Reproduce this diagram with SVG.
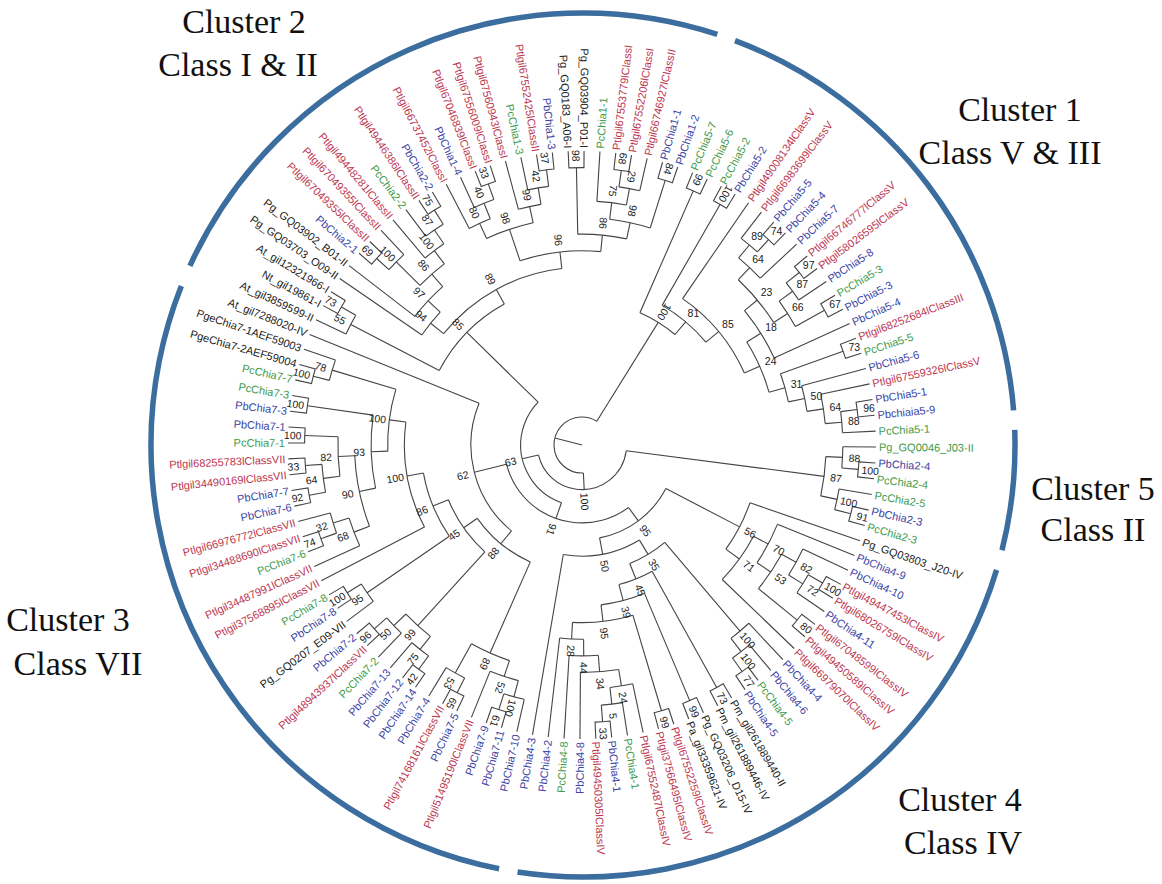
<svg xmlns="http://www.w3.org/2000/svg" width="1162" height="884" viewBox="0 0 1162 884">
<style>
.br{fill:none;stroke:#444;stroke-width:1.1}
.br circle{fill:none}
.t text{font-family:"Liberation Sans",Arial,sans-serif;font-size:11px;dominant-baseline:central}
.f{text-anchor:end}
.r{fill:#bc3650}.u{fill:#3c44a4}.g{fill:#3e9a4b}.k{fill:#222}
.b text{font-family:"Liberation Sans",Arial,sans-serif;font-size:10.5px;text-anchor:middle;dominant-baseline:central;fill:#222}
.cl{font-family:"Liberation Serif","Times New Roman",serif;font-size:34px;text-anchor:middle;fill:#111}
.ring{fill:none;stroke:#3b6d9e;stroke-width:5.5}
</style>
<defs>
<path id="ch" d="M294 0H277.4A277.4 277.4 0 0 1 276.99 15.02L293.57 15.92"/>
</defs>
<rect width="1162" height="884" fill="#fff"/>
<g id="ring">
<circle class="ring" cx="583" cy="445" r="432" pathLength="360" stroke-dasharray="64.8 400" transform="rotate(290.6 583 445)"/>
<circle class="ring" cx="583" cy="445" r="432" pathLength="360" stroke-dasharray="16.1 400" transform="rotate(358 583 445)"/>
<circle class="ring" cx="583" cy="445" r="432" pathLength="360" stroke-dasharray="81.9 400" transform="rotate(16.8 583 445)"/>
<circle class="ring" cx="583" cy="445" r="432" pathLength="360" stroke-dasharray="100.4 400" transform="rotate(101.2 583 445)"/>
<circle class="ring" cx="583" cy="445" r="432" pathLength="360" stroke-dasharray="83.6 400" transform="rotate(204.5 583 445)"/>
</g>
<g id="cluster-labels">
<text class="cl" x="244" y="33">Cluster 2</text><text class="cl" x="238" y="76">Class I &amp; II</text>
<text class="cl" x="1020" y="121">Cluster 1</text><text class="cl" x="1010" y="164">Class V &amp; III</text>
<text class="cl" x="1093" y="500">Cluster 5</text><text class="cl" x="1093" y="541">Class II</text>
<text class="cl" x="68" y="631">Cluster 3</text><text class="cl" x="78" y="675">Class VII</text>
<text class="cl" x="960" y="811">Cluster 4</text><text class="cl" x="963" y="854">Class IV</text>
</g>
<g id="tree" transform="translate(582 445)">
<g id="branches" class="br">
<use href="#ch" transform="rotate(3.5)"/><use href="#ch" transform="rotate(12.8)"/><use href="#ch" transform="rotate(28.3)"/><use href="#ch" transform="rotate(37.6)"/><use href="#ch" transform="rotate(53.2)"/><use href="#ch" transform="rotate(59.4)"/><use href="#ch" transform="rotate(65.6)"/><use href="#ch" transform="rotate(71.8)"/><use href="#ch" transform="rotate(84.2)"/>
<use href="#ch" transform="rotate(105.9)"/><use href="#ch" transform="rotate(115.2)"/><use href="#ch" transform="rotate(124.5)"/><use href="#ch" transform="rotate(136.95)"/><use href="#ch" transform="rotate(146.25)"/><use href="#ch" transform="rotate(158.7)"/><use href="#ch" transform="rotate(168)"/><use href="#ch" transform="rotate(174.2)"/><use href="#ch" transform="rotate(180.4)"/><use href="#ch" transform="rotate(186.6)"/><use href="#ch" transform="rotate(192.8)"/>
<use href="#ch" transform="rotate(208.3)"/><use href="#ch" transform="rotate(220.7)"/><use href="#ch" transform="rotate(236.3)"/><use href="#ch" transform="rotate(248.7)"/><use href="#ch" transform="rotate(261.1)"/><use href="#ch" transform="rotate(267.3)"/><use href="#ch" transform="rotate(276.6)"/><use href="#ch" transform="rotate(285.9)"/>
<use href="#ch" transform="rotate(292.1)"/><use href="#ch" transform="rotate(298.3)"/><use href="#ch" transform="rotate(310.7)"/><use href="#ch" transform="rotate(320)"/><use href="#ch" transform="rotate(329.4)"/><use href="#ch" transform="rotate(338.7)"/><use href="#ch" transform="rotate(351.1)"/>
<circle r="260.8" pathLength="360" stroke-dasharray="4.65 999" transform="rotate(0.4)"/><path d="M260.8 0H294" transform="rotate(0.4)"/><path d="M260.8 0H277.4" transform="rotate(5.05)"/>
<circle r="260.8" pathLength="360" stroke-dasharray="4.65 999" transform="rotate(9.7)"/><path d="M260.8 0H294" transform="rotate(9.7)"/><path d="M260.8 0H277.4" transform="rotate(14.35)"/>
<circle r="244.1" pathLength="360" stroke-dasharray="9.3 999" transform="rotate(2.73)"/><path d="M244.1 0H260.8" transform="rotate(2.73)"/><path d="M244.1 0H260.8" transform="rotate(12.03)"/>
<circle r="260.8" pathLength="360" stroke-dasharray="4.65 999" transform="rotate(29.85)"/><path d="M260.8 0H277.4" transform="rotate(29.85)"/><path d="M260.8 0H294" transform="rotate(34.5)"/>
<circle r="244.1" pathLength="360" stroke-dasharray="6.98 999" transform="rotate(25.2)"/><path d="M244.1 0H294" transform="rotate(25.2)"/><path d="M244.1 0H260.8" transform="rotate(32.18)"/>
<circle r="227.5" pathLength="360" stroke-dasharray="10.46 999" transform="rotate(28.69)"/><path d="M227.5 0H244.1" transform="rotate(28.69)"/><path d="M227.5 0H277.4" transform="rotate(39.15)"/>
<circle r="210.9" pathLength="360" stroke-dasharray="11.82 999" transform="rotate(22.1)"/><path d="M210.9 0H294" transform="rotate(22.1)"/><path d="M210.9 0H227.5" transform="rotate(33.92)"/>
<circle r="194.3" pathLength="360" stroke-dasharray="15.79 999" transform="rotate(28.01)"/><path d="M194.3 0H210.9" transform="rotate(28.01)"/><path d="M194.3 0H294" transform="rotate(43.8)"/>
<circle r="177.6" pathLength="360" stroke-dasharray="16.9 999" transform="rotate(19)"/><path d="M177.6 0H294" transform="rotate(19)"/><path d="M177.6 0H194.3" transform="rotate(35.9)"/>
<circle r="260.8" pathLength="360" stroke-dasharray="4.7 999" transform="rotate(50.05)"/><path d="M260.8 0H294" transform="rotate(50.05)"/><path d="M260.8 0H277.4" transform="rotate(54.75)"/>
<circle r="244.1" pathLength="360" stroke-dasharray="5.5 999" transform="rotate(46.9)"/><path d="M244.1 0H294" transform="rotate(46.9)"/><path d="M244.1 0H260.8" transform="rotate(52.4)"/>
<circle r="260.8" pathLength="360" stroke-dasharray="4.65 999" transform="rotate(81.1)"/><path d="M260.8 0H294" transform="rotate(81.1)"/><path d="M260.8 0H277.4" transform="rotate(85.75)"/>
<circle r="244.1" pathLength="360" stroke-dasharray="5.43 999" transform="rotate(78)"/><path d="M244.1 0H294" transform="rotate(78)"/><path d="M244.1 0H260.8" transform="rotate(83.43)"/>
<circle r="227.5" pathLength="360" stroke-dasharray="9.69 999" transform="rotate(80.71)"/><path d="M227.5 0H244.1" transform="rotate(80.71)"/><path d="M227.5 0H294" transform="rotate(90.4)"/>
<circle r="210.9" pathLength="360" stroke-dasharray="7.94 999" transform="rotate(85.56)"/><path d="M210.9 0H227.5" transform="rotate(85.56)"/><path d="M210.9 0H294" transform="rotate(93.5)"/>
<circle r="194.3" pathLength="360" stroke-dasharray="7.07 999" transform="rotate(89.53)"/><path d="M194.3 0H210.9" transform="rotate(89.53)"/><path d="M194.3 0H294" transform="rotate(96.6)"/>
<circle r="177.6" pathLength="360" stroke-dasharray="19.72 999" transform="rotate(73.35)"/><path d="M177.6 0H277.4" transform="rotate(73.35)"/><path d="M177.6 0H194.3" transform="rotate(93.07)"/>
<circle r="161" pathLength="360" stroke-dasharray="16.06 999" transform="rotate(67.15)"/><path d="M161 0H277.4" transform="rotate(67.15)"/><path d="M161 0H177.6" transform="rotate(83.21)"/>
<circle r="144.4" pathLength="360" stroke-dasharray="14.23 999" transform="rotate(60.95)"/><path d="M144.4 0H277.4" transform="rotate(60.95)"/><path d="M144.4 0H161" transform="rotate(75.18)"/>
<circle r="127.8" pathLength="360" stroke-dasharray="18.42 999" transform="rotate(49.65)"/><path d="M127.8 0H244.1" transform="rotate(49.65)"/><path d="M127.8 0H144.4" transform="rotate(68.07)"/>
<circle r="111.1" pathLength="360" stroke-dasharray="40.84 999" transform="rotate(58.86)"/><path d="M111.1 0H127.8" transform="rotate(58.86)"/><path d="M111.1 0H294" transform="rotate(99.7)"/>
<circle r="94.5" pathLength="360" stroke-dasharray="51.83 999" transform="rotate(27.45)"/><path d="M94.5 0H177.6" transform="rotate(27.45)"/><path d="M94.5 0H111.1" transform="rotate(79.28)"/>
<circle r="260.8" pathLength="360" stroke-dasharray="4.65 999" transform="rotate(102.8)"/><path d="M260.8 0H294" transform="rotate(102.8)"/><path d="M260.8 0H277.4" transform="rotate(107.45)"/>
<circle r="244.1" pathLength="360" stroke-dasharray="6.97 999" transform="rotate(105.13)"/><path d="M244.1 0H260.8" transform="rotate(105.13)"/><path d="M244.1 0H294" transform="rotate(112.1)"/>
<circle r="260.8" pathLength="360" stroke-dasharray="4.65 999" transform="rotate(116.75)"/><path d="M260.8 0H277.4" transform="rotate(116.75)"/><path d="M260.8 0H294" transform="rotate(121.4)"/>
<circle r="227.5" pathLength="360" stroke-dasharray="10.48 999" transform="rotate(108.6)"/><path d="M227.5 0H244.1" transform="rotate(108.6)"/><path d="M227.5 0H260.8" transform="rotate(119.08)"/>
<circle r="260.8" pathLength="360" stroke-dasharray="4.65 999" transform="rotate(126.05)"/><path d="M260.8 0H277.4" transform="rotate(126.05)"/><path d="M260.8 0H294" transform="rotate(130.7)"/>
<circle r="260.8" pathLength="360" stroke-dasharray="4.65 999" transform="rotate(133.85)"/><path d="M260.8 0H294" transform="rotate(133.85)"/><path d="M260.8 0H277.4" transform="rotate(138.5)"/>
<circle r="244.1" pathLength="360" stroke-dasharray="7.8 999" transform="rotate(128.38)"/><path d="M244.1 0H260.8" transform="rotate(128.38)"/><path d="M244.1 0H260.8" transform="rotate(136.18)"/>
<circle r="260.8" pathLength="360" stroke-dasharray="4.65 999" transform="rotate(143.15)"/><path d="M260.8 0H294" transform="rotate(143.15)"/><path d="M260.8 0H277.4" transform="rotate(147.8)"/>
<circle r="260.8" pathLength="360" stroke-dasharray="4.65 999" transform="rotate(160.25)"/><path d="M260.8 0H277.4" transform="rotate(160.25)"/><path d="M260.8 0H294" transform="rotate(164.9)"/>
<circle r="244.1" pathLength="360" stroke-dasharray="6.98 999" transform="rotate(155.6)"/><path d="M244.1 0H294" transform="rotate(155.6)"/><path d="M244.1 0H260.8" transform="rotate(162.58)"/>
<circle r="260.8" pathLength="360" stroke-dasharray="6.2 999" transform="rotate(169.55)"/><path d="M260.8 0H277.4" transform="rotate(169.55)"/><path d="M260.8 0H277.4" transform="rotate(175.75)"/>
<circle r="244.1" pathLength="360" stroke-dasharray="9.3 999" transform="rotate(172.65)"/><path d="M244.1 0H260.8" transform="rotate(172.65)"/><path d="M244.1 0H277.4" transform="rotate(181.95)"/>
<circle r="227.5" pathLength="360" stroke-dasharray="18.21 999" transform="rotate(159.09)"/><path d="M227.5 0H244.1" transform="rotate(159.09)"/><path d="M227.5 0H244.1" transform="rotate(177.3)"/>
<circle r="210.9" pathLength="360" stroke-dasharray="19.95 999" transform="rotate(168.2)"/><path d="M210.9 0H227.5" transform="rotate(168.2)"/><path d="M210.9 0H277.4" transform="rotate(188.15)"/>
<circle r="260.8" pathLength="360" stroke-dasharray="4.65 999" transform="rotate(194.35)"/><path d="M260.8 0H277.4" transform="rotate(194.35)"/><path d="M260.8 0H294" transform="rotate(199)"/>
<circle r="194.3" pathLength="360" stroke-dasharray="18.5 999" transform="rotate(178.18)"/><path d="M194.3 0H210.9" transform="rotate(178.18)"/><path d="M194.3 0H260.8" transform="rotate(196.68)"/>
<circle r="177.6" pathLength="360" stroke-dasharray="34.93 999" transform="rotate(152.5)"/><path d="M177.6 0H294" transform="rotate(152.5)"/><path d="M177.6 0H194.3" transform="rotate(187.43)"/>
<circle r="161" pathLength="360" stroke-dasharray="24.49 999" transform="rotate(145.48)"/><path d="M161 0H260.8" transform="rotate(145.48)"/><path d="M161 0H177.6" transform="rotate(169.97)"/>
<circle r="144.4" pathLength="360" stroke-dasharray="25.45 999" transform="rotate(132.28)"/><path d="M144.4 0H244.1" transform="rotate(132.28)"/><path d="M144.4 0H161" transform="rotate(157.73)"/>
<circle r="127.8" pathLength="360" stroke-dasharray="31.16 999" transform="rotate(113.84)"/><path d="M127.8 0H227.5" transform="rotate(113.84)"/><path d="M127.8 0H144.4" transform="rotate(145)"/>
<circle r="111.1" pathLength="360" stroke-dasharray="72.68 999" transform="rotate(129.42)"/><path d="M111.1 0H127.8" transform="rotate(129.42)"/><path d="M111.1 0H294" transform="rotate(202.1)"/>
<circle r="260.8" pathLength="360" stroke-dasharray="4.65 999" transform="rotate(205.2)"/><path d="M260.8 0H294" transform="rotate(205.2)"/><path d="M260.8 0H277.4" transform="rotate(209.85)"/>
<circle r="260.8" pathLength="360" stroke-dasharray="4.65 999" transform="rotate(222.25)"/><path d="M260.8 0H277.4" transform="rotate(222.25)"/><path d="M260.8 0H294" transform="rotate(226.9)"/>
<circle r="260.8" pathLength="360" stroke-dasharray="4.65 999" transform="rotate(233.2)"/><path d="M260.8 0H294" transform="rotate(233.2)"/><path d="M260.8 0H277.4" transform="rotate(237.85)"/>
<circle r="244.1" pathLength="360" stroke-dasharray="5.53 999" transform="rotate(230)"/><path d="M244.1 0H294" transform="rotate(230)"/><path d="M244.1 0H260.8" transform="rotate(235.53)"/>
<circle r="227.5" pathLength="360" stroke-dasharray="8.18 999" transform="rotate(224.58)"/><path d="M227.5 0H260.8" transform="rotate(224.58)"/><path d="M227.5 0H244.1" transform="rotate(232.76)"/>
<circle r="210.9" pathLength="360" stroke-dasharray="11.07 999" transform="rotate(217.6)"/><path d="M210.9 0H294" transform="rotate(217.6)"/><path d="M210.9 0H227.5" transform="rotate(228.67)"/>
<circle r="194.3" pathLength="360" stroke-dasharray="8.64 999" transform="rotate(214.5)"/><path d="M194.3 0H294" transform="rotate(214.5)"/><path d="M194.3 0H210.9" transform="rotate(223.14)"/>
<circle r="260.8" pathLength="360" stroke-dasharray="4.65 999" transform="rotate(245.6)"/><path d="M260.8 0H294" transform="rotate(245.6)"/><path d="M260.8 0H277.4" transform="rotate(250.25)"/>
<circle r="244.1" pathLength="360" stroke-dasharray="5.43 999" transform="rotate(242.5)"/><path d="M244.1 0H294" transform="rotate(242.5)"/><path d="M244.1 0H260.8" transform="rotate(247.93)"/>
<circle r="260.8" pathLength="360" stroke-dasharray="4.65 999" transform="rotate(258)"/><path d="M260.8 0H294" transform="rotate(258)"/><path d="M260.8 0H277.4" transform="rotate(262.65)"/>
<circle r="244.1" pathLength="360" stroke-dasharray="5.43 999" transform="rotate(254.9)"/><path d="M244.1 0H294" transform="rotate(254.9)"/><path d="M244.1 0H260.8" transform="rotate(260.33)"/>
<circle r="227.5" pathLength="360" stroke-dasharray="12.4 999" transform="rotate(245.21)"/><path d="M227.5 0H244.1" transform="rotate(245.21)"/><path d="M227.5 0H244.1" transform="rotate(257.61)"/>
<circle r="260.8" pathLength="360" stroke-dasharray="4.65 999" transform="rotate(278.15)"/><path d="M260.8 0H277.4" transform="rotate(278.15)"/><path d="M260.8 0H294" transform="rotate(282.8)"/>
<circle r="244.1" pathLength="360" stroke-dasharray="6.98 999" transform="rotate(273.5)"/><path d="M244.1 0H294" transform="rotate(273.5)"/><path d="M244.1 0H260.8" transform="rotate(280.48)"/>
<circle r="227.5" pathLength="360" stroke-dasharray="10.46 999" transform="rotate(276.99)"/><path d="M227.5 0H244.1" transform="rotate(276.99)"/><path d="M227.5 0H277.4" transform="rotate(287.45)"/>
<circle r="210.9" pathLength="360" stroke-dasharray="13.37 999" transform="rotate(268.85)"/><path d="M210.9 0H277.4" transform="rotate(268.85)"/><path d="M210.9 0H227.5" transform="rotate(282.22)"/>
<circle r="194.3" pathLength="360" stroke-dasharray="24.13 999" transform="rotate(251.41)"/><path d="M194.3 0H227.5" transform="rotate(251.41)"/><path d="M194.3 0H210.9" transform="rotate(275.54)"/>
<circle r="177.6" pathLength="360" stroke-dasharray="44.66 999" transform="rotate(218.82)"/><path d="M177.6 0H194.3" transform="rotate(218.82)"/><path d="M177.6 0H194.3" transform="rotate(263.48)"/>
<circle r="161" pathLength="360" stroke-dasharray="33.62 999" transform="rotate(207.53)"/><path d="M161 0H260.8" transform="rotate(207.53)"/><path d="M161 0H177.6" transform="rotate(241.15)"/>
<circle r="260.8" pathLength="360" stroke-dasharray="4.65 999" transform="rotate(307.6)"/><path d="M260.8 0H294" transform="rotate(307.6)"/><path d="M260.8 0H277.4" transform="rotate(312.25)"/>
<circle r="244.1" pathLength="360" stroke-dasharray="6.97 999" transform="rotate(309.93)"/><path d="M244.1 0H260.8" transform="rotate(309.93)"/><path d="M244.1 0H294" transform="rotate(316.9)"/>
<circle r="260.8" pathLength="360" stroke-dasharray="4.65 999" transform="rotate(321.55)"/><path d="M260.8 0H277.4" transform="rotate(321.55)"/><path d="M260.8 0H294" transform="rotate(326.2)"/>
<circle r="244.1" pathLength="360" stroke-dasharray="7.07 999" transform="rotate(323.88)"/><path d="M244.1 0H260.8" transform="rotate(323.88)"/><path d="M244.1 0H277.4" transform="rotate(330.95)"/>
<circle r="227.5" pathLength="360" stroke-dasharray="14 999" transform="rotate(313.41)"/><path d="M227.5 0H244.1" transform="rotate(313.41)"/><path d="M227.5 0H244.1" transform="rotate(327.41)"/>
<circle r="210.9" pathLength="360" stroke-dasharray="15.19 999" transform="rotate(320.41)"/><path d="M210.9 0H227.5" transform="rotate(320.41)"/><path d="M210.9 0H294" transform="rotate(335.6)"/>
<circle r="260.8" pathLength="360" stroke-dasharray="4.65 999" transform="rotate(352.65)"/><path d="M260.8 0H277.4" transform="rotate(352.65)"/><path d="M260.8 0H294" transform="rotate(357.3)"/>
<circle r="244.1" pathLength="360" stroke-dasharray="6.98 999" transform="rotate(348)"/><path d="M244.1 0H294" transform="rotate(348)"/><path d="M244.1 0H260.8" transform="rotate(354.98)"/>
<circle r="227.5" pathLength="360" stroke-dasharray="6.59 999" transform="rotate(344.9)"/><path d="M227.5 0H294" transform="rotate(344.9)"/><path d="M227.5 0H244.1" transform="rotate(351.49)"/>
<circle r="210.9" pathLength="360" stroke-dasharray="7.95 999" transform="rotate(340.25)"/><path d="M210.9 0H277.4" transform="rotate(340.25)"/><path d="M210.9 0H227.5" transform="rotate(348.2)"/>
<circle r="194.3" pathLength="360" stroke-dasharray="16.23 999" transform="rotate(328)"/><path d="M194.3 0H210.9" transform="rotate(328)"/><path d="M194.3 0H210.9" transform="rotate(344.23)"/>
<circle r="177.6" pathLength="360" stroke-dasharray="31.62 999" transform="rotate(304.5)"/><path d="M177.6 0H294" transform="rotate(304.5)"/><path d="M177.6 0H194.3" transform="rotate(336.12)"/>
<circle r="161" pathLength="360" stroke-dasharray="20.46 999" transform="rotate(299.85)"/><path d="M161 0H277.4" transform="rotate(299.85)"/><path d="M161 0H177.6" transform="rotate(320.31)"/>
<circle r="144.4" pathLength="360" stroke-dasharray="16.43 999" transform="rotate(293.65)"/><path d="M144.4 0H277.4" transform="rotate(293.65)"/><path d="M144.4 0H161" transform="rotate(310.08)"/>
<circle r="77.9" pathLength="360" stroke-dasharray="112.39 999" transform="rotate(53.37)"/><path d="M77.9 0H94.5" transform="rotate(53.37)"/><path d="M77.9 0H111.1" transform="rotate(165.76)"/>
<circle r="61.3" pathLength="360" stroke-dasharray="114.77 999" transform="rotate(109.57)"/><path d="M61.3 0H77.9" transform="rotate(109.57)"/><path d="M61.3 0H161" transform="rotate(224.34)"/>
<circle r="44.6" pathLength="360" stroke-dasharray="159.58 999" transform="rotate(7.38)"/><path d="M44.6 0H244.1" transform="rotate(7.38)"/><path d="M44.6 0H61.3" transform="rotate(166.96)"/>
<circle r="28" pathLength="360" stroke-dasharray="214.7 999" transform="rotate(87.17)"/><path d="M28 0H44.6" transform="rotate(87.17)"/><path d="M28 0H144.4" transform="rotate(301.87)"/><path d="M0 0H28" transform="rotate(194.52)"/>
</g>
<g id="leaves" class="t">
<text class="g" transform="rotate(0.4)translate(297)">Pg_GQ0046_J03-II</text>
<text class="u" transform="rotate(3.5)translate(297)">PbChia2-4</text>
<text class="g" transform="rotate(6.6)translate(297)">PcChia2-4</text>
<text class="g" transform="rotate(9.7)translate(297)">PcChia2-5</text>
<text class="u" transform="rotate(12.8)translate(297)">PbChia2-3</text>
<text class="g" transform="rotate(15.9)translate(297)">PcChia2-3</text>
<text class="k" transform="rotate(19)translate(297)">Pg_GQ03803_J20-IV</text>
<text class="u" transform="rotate(22.1)translate(297)">PbChia4-9</text>
<text class="u" transform="rotate(25.2)translate(297)">PbChia4-10</text>
<text class="r" transform="rotate(28.3)translate(297)">Ptlgil49447453lClassIV</text>
<text class="r" transform="rotate(31.4)translate(297)">Ptlgil68026759lClassIV</text>
<text class="u" transform="rotate(34.5)translate(297)">PbChia4-11</text>
<text class="r" transform="rotate(37.6)translate(297)">Ptlgil67048599lClassIV</text>
<text class="r" transform="rotate(40.7)translate(297)">Ptlgil49450589lClassIV</text>
<text class="r" transform="rotate(43.8)translate(297)">Ptlgil66979070lClassIV</text>
<text class="u" transform="rotate(46.9)translate(297)">PbChia4-4</text>
<text class="u" transform="rotate(50.05)translate(297)">PbChia4-6</text>
<text class="g" transform="rotate(53.2)translate(297)">PcChia4-5</text>
<text class="u" transform="rotate(56.3)translate(297)">PbChia4-5</text>
<text class="k" transform="rotate(59.4)translate(297)">Pm_gil261889440-II</text>
<text class="k" transform="rotate(62.5)translate(297)">Pm_gil261889446-IV</text>
<text class="k" transform="rotate(65.6)translate(297)">Pg_GQ03206_D15-IV</text>
<text class="k" transform="rotate(68.7)translate(297)">Pa_gil33359621-IV</text>
<text class="r" transform="rotate(71.8)translate(297)">Ptlgil67552259lClassIV</text>
<text class="r" transform="rotate(74.9)translate(297)">Ptlgil37566495lClassIV</text>
<text class="r" transform="rotate(78)translate(297)">Ptlgil67552487lClassIV</text>
<text class="g" transform="rotate(81.1)translate(297)">PcChia4-1</text>
<text class="u" transform="rotate(84.2)translate(297)">PbChia4-1</text>
<text class="r" transform="rotate(87.3)translate(297)">Ptlgil49450305lClassIV</text>
<text class="u f" transform="rotate(90.4)translate(297)rotate(180)">PbChia4-8</text>
<text class="g f" transform="rotate(93.5)translate(297)rotate(180)">PcChia4-8</text>
<text class="u f" transform="rotate(96.6)translate(297)rotate(180)">PbChia4-2</text>
<text class="u f" transform="rotate(99.7)translate(297)rotate(180)">PbChia4-3</text>
<text class="u f" transform="rotate(102.8)translate(297)rotate(180)">PbChia7-10</text>
<text class="u f" transform="rotate(105.9)translate(297)rotate(180)">PbChia7-11</text>
<text class="u f" transform="rotate(109)translate(297)rotate(180)">PbChia7-9</text>
<text class="r f" transform="rotate(112.1)translate(297)rotate(180)">Ptlgil51495190lClassVII</text>
<text class="u f" transform="rotate(115.2)translate(297)rotate(180)">PbChia7-5</text>
<text class="r f" transform="rotate(118.3)translate(297)rotate(180)">Ptlgil74168161lClassVII</text>
<text class="u f" transform="rotate(121.4)translate(297)rotate(180)">PbChia7-4</text>
<text class="u f" transform="rotate(124.5)translate(297)rotate(180)">PbChia7-14</text>
<text class="u f" transform="rotate(127.6)translate(297)rotate(180)">PbChia7-12</text>
<text class="u f" transform="rotate(130.7)translate(297)rotate(180)">PbChia7-13</text>
<text class="g f" transform="rotate(133.85)translate(297)rotate(180)">PcChia7-2</text>
<text class="r f" transform="rotate(136.95)translate(297)rotate(180)">Ptlgil48943937lClassVII</text>
<text class="u f" transform="rotate(140.05)translate(297)rotate(180)">PbChia7-2</text>
<text class="k f" transform="rotate(143.15)translate(297)rotate(180)">Pg_GQ0207_E09-VII</text>
<text class="u f" transform="rotate(146.25)translate(297)rotate(180)">PbChia7-8</text>
<text class="g f" transform="rotate(149.35)translate(297)rotate(180)">PcChia7-8</text>
<text class="r f" transform="rotate(152.5)translate(297)rotate(180)">Ptlgil37568895lClassVII</text>
<text class="r f" transform="rotate(155.6)translate(297)rotate(180)">Ptlgil34487991lClassVII</text>
<text class="g f" transform="rotate(158.7)translate(297)rotate(180)">PcChia7-6</text>
<text class="r f" transform="rotate(161.8)translate(297)rotate(180)">Ptlgil34488690lClassVII</text>
<text class="r f" transform="rotate(164.9)translate(297)rotate(180)">Ptlgil66976772lClassVII</text>
<text class="u f" transform="rotate(168)translate(297)rotate(180)">PbChia7-6</text>
<text class="u f" transform="rotate(171.1)translate(297)rotate(180)">PbChia7-7</text>
<text class="r f" transform="rotate(174.2)translate(297)rotate(180)">Ptlgil34490169lClassVII</text>
<text class="r f" transform="rotate(177.3)translate(297)rotate(180)">Ptlgil68255783lClassVII</text>
<text class="g f" transform="rotate(180.4)translate(297)rotate(180)">PcChia7-1</text>
<text class="u f" transform="rotate(183.5)translate(297)rotate(180)">PbChia7-1</text>
<text class="u f" transform="rotate(186.6)translate(297)rotate(180)">PbChia7-3</text>
<text class="g f" transform="rotate(189.7)translate(297)rotate(180)">PcChia7-3</text>
<text class="g f" transform="rotate(192.8)translate(297)rotate(180)">PcChia7-7</text>
<text class="k f" transform="rotate(195.9)translate(297)rotate(180)">PgeChia7-2AEF59004</text>
<text class="k f" transform="rotate(199)translate(297)rotate(180)">PgeChia7-1AEF59003</text>
<text class="k f" transform="rotate(202.1)translate(297)rotate(180)">At_gil7288020-IV</text>
<text class="k f" transform="rotate(205.2)translate(297)rotate(180)">At_gil3859599-II</text>
<text class="k f" transform="rotate(208.3)translate(297)rotate(180)">Nt_gil19861-I</text>
<text class="k f" transform="rotate(211.4)translate(297)rotate(180)">At_gil12321966-I</text>
<text class="k f" transform="rotate(214.5)translate(297)rotate(180)">Pg_GQ03703_O09-II</text>
<text class="k f" transform="rotate(217.6)translate(297)rotate(180)">Pg_GQ03902_B01-II</text>
<text class="u f" transform="rotate(220.7)translate(297)rotate(180)">PbChia2-1</text>
<text class="r f" transform="rotate(223.8)translate(297)rotate(180)">Ptlgil67049355lClassII</text>
<text class="r f" transform="rotate(226.9)translate(297)rotate(180)">Ptlgil67049355lClassII</text>
<text class="r f" transform="rotate(230)translate(297)rotate(180)">Ptlgil49448281lClassII</text>
<text class="g f" transform="rotate(233.2)translate(297)rotate(180)">PcChia2-2</text>
<text class="r f" transform="rotate(236.3)translate(297)rotate(180)">Ptlgil49446386lClassII</text>
<text class="u f" transform="rotate(239.4)translate(297)rotate(180)">PbChia2-2</text>
<text class="r f" transform="rotate(242.5)translate(297)rotate(180)">Ptlgil66737452lClassI</text>
<text class="u f" transform="rotate(245.6)translate(297)rotate(180)">PbChia1-4</text>
<text class="r f" transform="rotate(248.7)translate(297)rotate(180)">Ptlgil67046839lClassI</text>
<text class="r f" transform="rotate(251.8)translate(297)rotate(180)">Ptlgil67556009lClassI</text>
<text class="r f" transform="rotate(254.9)translate(297)rotate(180)">Ptlgil67560943lClassI</text>
<text class="g f" transform="rotate(258)translate(297)rotate(180)">PcChia1-3</text>
<text class="r f" transform="rotate(261.1)translate(297)rotate(180)">Ptlgil67552425lClassII</text>
<text class="u f" transform="rotate(264.2)translate(297)rotate(180)">PbChia1-3</text>
<text class="k f" transform="rotate(267.3)translate(297)rotate(180)">Pg_GQ0183_A06-I</text>
<text class="k f" transform="rotate(270.4)translate(297)rotate(180)">Pg_GQ03904_P01-I</text>
<text class="g" transform="rotate(273.5)translate(297)">PcChia1-1</text>
<text class="r" transform="rotate(276.6)translate(297)">Ptlgil67553779lClassI</text>
<text class="r" transform="rotate(279.7)translate(297)">Ptlgil67552206lClassI</text>
<text class="r" transform="rotate(282.8)translate(297)">Ptlgil66746927lClassII</text>
<text class="u" transform="rotate(285.9)translate(297)">PbChia1-1</text>
<text class="u" transform="rotate(289)translate(297)">PbChia1-2</text>
<text class="g" transform="rotate(292.1)translate(297)">PcChia5-7</text>
<text class="g" transform="rotate(295.2)translate(297)">PcChia5-6</text>
<text class="g" transform="rotate(298.3)translate(297)">PcChia5-2</text>
<text class="u" transform="rotate(301.4)translate(297)">PbChia5-2</text>
<text class="r" transform="rotate(304.5)translate(297)">Ptlgil49008134lClassV</text>
<text class="r" transform="rotate(307.6)translate(297)">Ptlgil66983699lClassV</text>
<text class="u" transform="rotate(310.7)translate(297)">PbChia5-5</text>
<text class="u" transform="rotate(313.8)translate(297)">PbChia5-4</text>
<text class="u" transform="rotate(316.9)translate(297)">PbChia5-7</text>
<text class="r" transform="rotate(320)translate(297)">Ptlgil66746777lClassV</text>
<text class="r" transform="rotate(323.1)translate(297)">Ptlgil58026595lClassV</text>
<text class="u" transform="rotate(326.2)translate(297)">PbChia5-8</text>
<text class="g" transform="rotate(329.4)translate(297)">PcChia5-3</text>
<text class="u" transform="rotate(332.5)translate(297)">PbChia5-3</text>
<text class="u" transform="rotate(335.6)translate(297)">PbChia5-4</text>
<text class="r" transform="rotate(338.7)translate(297)">Ptlgil68252684lClassIII</text>
<text class="g" transform="rotate(341.8)translate(297)">PcChia5-5</text>
<text class="u" transform="rotate(344.9)translate(297)">PbChia5-6</text>
<text class="r" transform="rotate(348)translate(297)">Ptlgil67559326lClassV</text>
<text class="u" transform="rotate(351.1)translate(297)">PbChia5-1</text>
<text class="u" transform="rotate(354.2)translate(297)">Pbchiaia5-9</text>
<text class="g" transform="rotate(357.3)translate(297)">PcChia5-1</text>
</g>
<g id="bootstrap" class="b">
<text transform="rotate(5.05)translate(289.4)">100</text>
<text transform="rotate(2.73)translate(272.8)">88</text>
<text transform="rotate(14.35)translate(289.4)">91</text>
<text transform="rotate(12.03)translate(272.8)">100</text>
<text transform="rotate(7.38)translate(256.1)">87</text>
<text transform="rotate(29.85)translate(289.4)">100</text>
<text transform="rotate(32.18)translate(272.8)">72</text>
<text transform="rotate(28.69)translate(256.1)">82</text>
<text transform="rotate(39.15)translate(289.4)">80</text>
<text transform="rotate(33.92)translate(239.5)">53</text>
<text transform="rotate(28.01)translate(222.9)">70</text>
<text transform="rotate(35.9)translate(206.3)">71</text>
<text transform="rotate(27.45)translate(189.6)">56</text>
<text transform="rotate(54.75)translate(289.4)">77</text>
<text transform="rotate(52.4)translate(272.8)">100</text>
<text transform="rotate(49.65)translate(256.1)">100</text>
<text transform="rotate(60.95)translate(289.4)">73</text>
<text transform="rotate(67.15)translate(289.4)">99</text>
<text transform="rotate(73.35)translate(289.4)">99</text>
<text transform="rotate(85.75)translate(289.4)">33</text>
<text transform="rotate(83.43)translate(272.8)">5</text>
<text transform="rotate(80.71)translate(256.1)">24</text>
<text transform="rotate(85.56)translate(239.5)">34</text>
<text transform="rotate(89.53)translate(222.9)">44</text>
<text transform="rotate(93.07)translate(206.3)">28</text>
<text transform="rotate(83.21)translate(189.6)">95</text>
<text transform="rotate(75.18)translate(173)">39</text>
<text transform="rotate(68.07)translate(156.4)">45</text>
<text transform="rotate(58.86)translate(139.8)">35</text>
<text transform="rotate(79.28)translate(123.1)">50</text>
<text transform="rotate(53.37)translate(106.5)">95</text>
<text transform="rotate(107.45)translate(289.4)">61</text>
<text transform="rotate(105.13)translate(272.8)">100</text>
<text transform="rotate(108.6)translate(256.1)">52</text>
<text transform="rotate(116.75)translate(289.4)">65</text>
<text transform="rotate(119.08)translate(272.8)">53</text>
<text transform="rotate(113.84)translate(239.5)">89</text>
<text transform="rotate(126.05)translate(289.4)rotate(180)">42</text>
<text transform="rotate(128.38)translate(272.8)rotate(180)">75</text>
<text transform="rotate(138.5)translate(289.4)rotate(180)">96</text>
<text transform="rotate(136.18)translate(272.8)rotate(180)">50</text>
<text transform="rotate(132.28)translate(256.1)rotate(180)">99</text>
<text transform="rotate(147.8)translate(289.4)rotate(180)">100</text>
<text transform="rotate(145.48)translate(272.8)rotate(180)">95</text>
<text transform="rotate(160.25)translate(289.4)rotate(180)">74</text>
<text transform="rotate(162.58)translate(272.8)rotate(180)">32</text>
<text transform="rotate(159.09)translate(256.1)rotate(180)">68</text>
<text transform="rotate(169.55)translate(289.4)rotate(180)">92</text>
<text transform="rotate(175.75)translate(289.4)rotate(180)">33</text>
<text transform="rotate(172.65)translate(272.8)rotate(180)">64</text>
<text transform="rotate(181.95)translate(289.4)rotate(180)">100</text>
<text transform="rotate(177.3)translate(256.1)rotate(180)">82</text>
<text transform="rotate(168.2)translate(239.5)rotate(180)">90</text>
<text transform="rotate(188.15)translate(289.4)rotate(180)">100</text>
<text transform="rotate(178.18)translate(222.9)rotate(180)">93</text>
<text transform="rotate(194.35)translate(289.4)rotate(180)">100</text>
<text transform="rotate(196.68)translate(272.8)rotate(180)">78</text>
<text transform="rotate(187.43)translate(206.3)rotate(180)">100</text>
<text transform="rotate(169.97)translate(189.6)rotate(180)">100</text>
<text transform="rotate(157.73)translate(173)rotate(180)">86</text>
<text transform="rotate(145)translate(156.4)rotate(180)">45</text>
<text transform="rotate(129.42)translate(139.8)rotate(180)">88</text>
<text transform="rotate(165.76)translate(123.1)rotate(180)">62</text>
<text transform="rotate(209.85)translate(289.4)rotate(180)">73</text>
<text transform="rotate(207.53)translate(272.8)rotate(180)">55</text>
<text transform="rotate(222.25)translate(289.4)rotate(180)">69</text>
<text transform="rotate(224.58)translate(272.8)rotate(180)">100</text>
<text transform="rotate(237.85)translate(289.4)rotate(180)">75</text>
<text transform="rotate(235.53)translate(272.8)rotate(180)">87</text>
<text transform="rotate(232.76)translate(256.1)rotate(180)">100</text>
<text transform="rotate(228.67)translate(239.5)rotate(180)">86</text>
<text transform="rotate(223.14)translate(222.9)rotate(180)">97</text>
<text transform="rotate(218.82)translate(206.3)rotate(180)">94</text>
<text transform="rotate(250.25)translate(289.4)rotate(180)">33</text>
<text transform="rotate(247.93)translate(272.8)rotate(180)">40</text>
<text transform="rotate(245.21)translate(256.1)rotate(180)">80</text>
<text transform="rotate(262.65)translate(289.4)rotate(180)">37</text>
<text transform="rotate(260.33)translate(272.8)rotate(180)">42</text>
<text transform="rotate(257.61)translate(256.1)rotate(180)">99</text>
<text transform="rotate(251.41)translate(239.5)rotate(180)">98</text>
<text transform="rotate(268.85)translate(289.4)rotate(180)">98</text>
<text transform="rotate(278.15)translate(289.4)rotate(180)">68</text>
<text transform="rotate(280.48)translate(272.8)rotate(180)">29</text>
<text transform="rotate(276.99)translate(256.1)rotate(180)">75</text>
<text transform="rotate(287.45)translate(289.4)rotate(180)">84</text>
<text transform="rotate(282.22)translate(239.5)rotate(180)">98</text>
<text transform="rotate(275.54)translate(222.9)rotate(180)">86</text>
<text transform="rotate(263.48)translate(206.3)rotate(180)">96</text>
<text transform="rotate(241.15)translate(189.6)rotate(180)">89</text>
<text transform="rotate(224.34)translate(173)rotate(180)">85</text>
<text transform="rotate(293.65)translate(289.4)rotate(180)">99</text>
<text transform="rotate(299.85)translate(289.4)rotate(180)">100</text>
<text transform="rotate(312.25)translate(289.4)rotate(-312.25)">74</text>
<text transform="rotate(309.93)translate(272.8)rotate(-309.93)">89</text>
<text transform="rotate(313.41)translate(256.1)rotate(-313.41)">64</text>
<text transform="rotate(321.55)translate(289.4)rotate(-321.55)">97</text>
<text transform="rotate(323.88)translate(272.8)rotate(-323.88)">87</text>
<text transform="rotate(330.95)translate(289.4)rotate(-330.95)">67</text>
<text transform="rotate(327.41)translate(256.1)rotate(-327.41)">66</text>
<text transform="rotate(320.41)translate(239.5)rotate(-320.41)">23</text>
<text transform="rotate(328)translate(222.9)rotate(-328)">18</text>
<text transform="rotate(340.25)translate(289.4)rotate(-340.25)">73</text>
<text transform="rotate(352.65)translate(289.4)rotate(-352.65)">96</text>
<text transform="rotate(354.98)translate(272.8)rotate(-354.98)">88</text>
<text transform="rotate(351.49)translate(256.1)rotate(-351.49)">64</text>
<text transform="rotate(348.2)translate(239.5)rotate(-348.2)">50</text>
<text transform="rotate(344.23)translate(222.9)rotate(-344.23)">31</text>
<text transform="rotate(336.12)translate(206.3)rotate(-336.12)">24</text>
<text transform="rotate(320.31)translate(189.6)rotate(-320.31)">85</text>
<text transform="rotate(310.08)translate(173)rotate(-310.08)">81</text>
<text transform="rotate(301.87)translate(156.4)rotate(180)">100</text>
<text transform="rotate(109.57)translate(89.9)">91</text>
<text transform="rotate(166.96)translate(73.3)rotate(180)">63</text>
<text transform="rotate(87.17)translate(56.6)">100</text>
</g>
</g>
</svg>
